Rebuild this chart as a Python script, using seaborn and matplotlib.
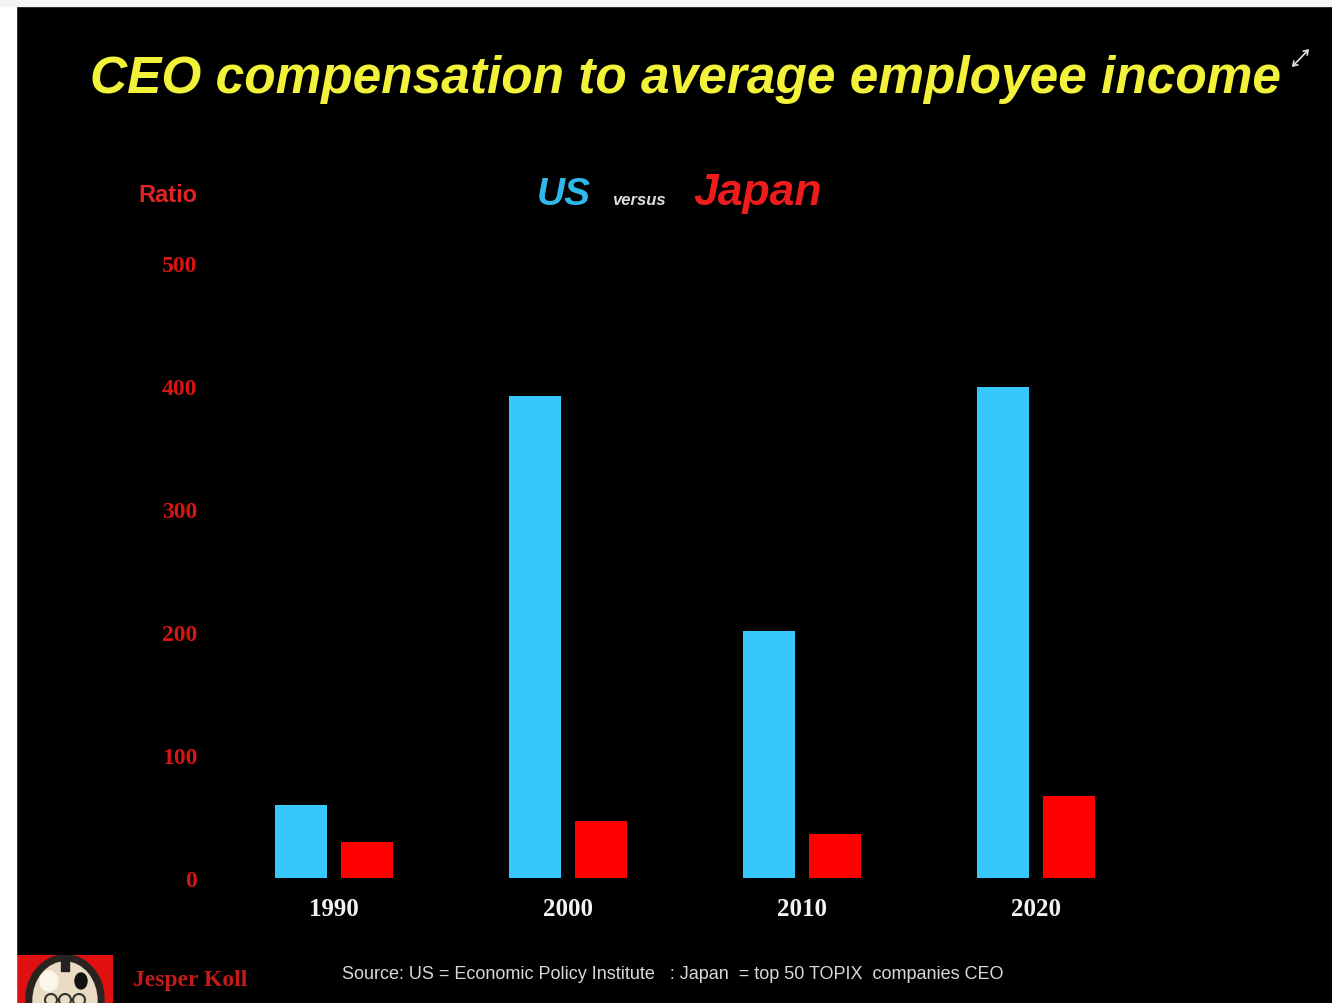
import pandas as pd
import numpy as np
import matplotlib.pyplot as plt
import seaborn as sns
from matplotlib.patches import Rectangle, Ellipse, Circle, FancyArrowPatch

years = ["1990", "2000", "2010", "2020"]
us_ratio = [59, 392, 201, 399]
japan_ratio = [29, 46, 36, 67]
y_ticks = [0, 100, 200, 300, 400, 500]

df = pd.DataFrame({
    "year": years * 2,
    "ratio": us_ratio + japan_ratio,
    "country": ["US"] * len(years) + ["Japan"] * len(years),
})

W, H = 1332, 1004
fig = plt.figure(figsize=(W / 100, H / 100), dpi=100)
fig.patch.set_facecolor("black")

# white slide border on left and top
fig.patches.append(Rectangle((0, 0), 16 / W, 1, transform=fig.transFigure, color="white", zorder=0))
fig.patches.append(Rectangle((0, 1 - 7 / H), 1, 7 / H, transform=fig.transFigure, color="#f4f4f4", zorder=0))

ax = fig.add_axes([200 / W, 125 / H, 1000 / W, 615 / H])
ax.set_facecolor("black")

sns.barplot(data=df, x="year", y="ratio", hue="country", hue_order=["US", "Japan"],
            palette={"US": "#36c8fc", "Japan": "#ff0000"}, width=0.56, gap=0.2,
            saturation=1, legend=False, ax=ax)

ax.set_ylim(0, 500)
ax.set_xlim((200 - 334) / 234, (1200 - 334) / 234)
ax.set_yticks(y_ticks)
ax.set_yticklabels([str(t) for t in y_ticks], family="Liberation Serif", fontweight="bold",
                   fontsize=17, color="#d81414")
ax.set_xticks(range(len(years)))
ax.set_xticklabels(years, family="Liberation Serif", fontweight="bold", fontsize=18, color="#f2f2f2")
ax.tick_params(axis="both", length=0)
ax.tick_params(axis="y", pad=2)
ax.tick_params(axis="x", pad=14)
ax.set_xlabel("")
ax.set_ylabel("")
for s in ax.spines.values():
    s.set_visible(False)

# titles
fig.text(686 / W, 1 - 80 / H, "CEO compensation to average employee income", ha="center", va="center",
         family="Liberation Sans", fontweight="bold", style="italic", fontsize=37, color="#f2f23a")
fig.text(537 / W, 1 - 205 / H, "US", ha="left", va="baseline", family="Liberation Sans",
         fontweight="bold", style="italic", fontsize=28, color="#2fb8ea")
fig.text(612 / W, 1 - 205 / H, "versus", ha="left", va="baseline", family="Liberation Sans",
         fontweight="bold", style="italic", fontsize=12, color="#dddddd")
fig.text(693 / W, 1 - 205 / H, "Japan", ha="left", va="baseline", family="Liberation Sans",
         fontweight="bold", style="italic", fontsize=32, color="#ee1c1c")
fig.text(197 / W, 1 - 196 / H, "Ratio", ha="right", va="center", family="Liberation Sans",
         fontweight="bold", fontsize=17, color="#e02424")

# footer
fig.text(133 / W, 1 - 981 / H, "Jesper Koll", ha="left", va="center", family="Liberation Serif",
         fontweight="bold", fontsize=17, color="#c41a1a")
fig.text(342 / W, 1 - 975 / H,
         "Source: US = Economic Policy Institute   : Japan  = top 50 TOPIX  companies CEO",
         ha="left", va="center", family="Liberation Sans", fontsize=13, color="#d8d8d8")

# expand icon in the corner
fig.patches.append(FancyArrowPatch((1290 / W, 1 - 70 / H), (1311 / W, 1 - 48 / H),
                                   transform=fig.transFigure, arrowstyle="<->,head_length=3,head_width=2",
                                   color="#e0e0e0", lw=1.2))

# little daruma logo
lax = fig.add_axes([17 / W, 0, 96 / W, 48 / H])
lax.set_xlim(0, 96)
lax.set_ylim(0, 48)
lax.axis("off")
lax.add_patch(Rectangle((0, 0), 96, 48, color="#e01010"))
lax.add_patch(Ellipse((48, 4), 78, 88, color="#2a2420"))
lax.add_patch(Ellipse((48, 2), 64, 78, color="#eadcc4"))
lax.add_patch(Ellipse((32, 22), 18, 20, color="#fbf6ea"))
lax.add_patch(Ellipse((64, 22), 12, 16, color="#111111"))
lax.add_patch(Rectangle((44, 32), 8, 14, color="#222222"))
for cx in [34, 48, 62]:
    lax.add_patch(Circle((cx, 3), 6, fill=False, ec="#333333", lw=1.5))

fig.savefig("out.png", dpi=100, facecolor=fig.get_facecolor())
